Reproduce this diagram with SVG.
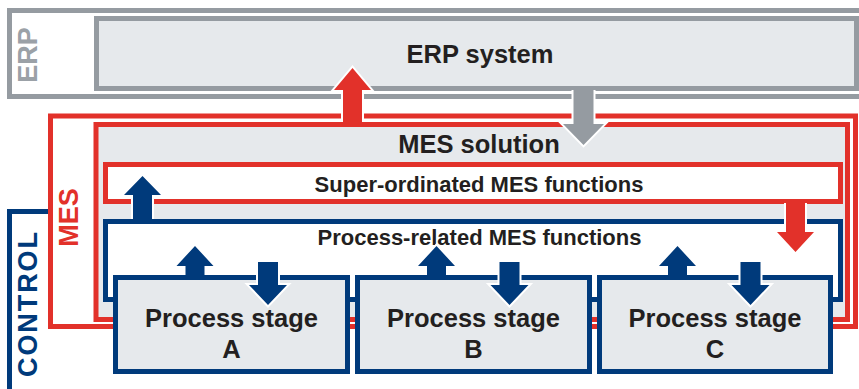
<svg xmlns="http://www.w3.org/2000/svg" width="859" height="389" viewBox="0 0 859 389">
<style>
  .frame{fill:none;stroke-width:5}
  .gray{stroke:#959ba1}
  .red{stroke:#e2312a}
  .blue{stroke:#003a7b}
  .box{fill:#e6e9ec;stroke-width:5}
  .wbox{fill:#ffffff;stroke-width:5}
  .t{font-family:"Liberation Sans",Arial,sans-serif;font-weight:bold;fill:#231f20;text-anchor:middle}
  .big{font-size:25.5px}
  .mid{font-size:22px}
  .side{font-family:"Liberation Sans",Arial,sans-serif;font-weight:bold;font-size:27px;text-anchor:middle}
  .halo{fill:none;stroke:#ffffff;stroke-width:4;stroke-linejoin:miter}
  .af-red{fill:#e2312a}
  .af-blue{fill:#003a7b}
  .af-gray{fill:#959ba1}
</style>

<g id="erp-frame">
  <path class="frame gray" d="M870,10.5 H9.5 V96.5 H870"/>
  <text class="side" fill="#9ba1a7" transform="translate(37,55) rotate(-90)">ERP</text>
</g>

<g id="erp-system">
  <rect class="box gray" x="96.5" y="18.5" width="760" height="70"/>
  <text class="t big" x="480" y="63">ERP system</text>
</g>

<g id="control-frame">
  <path class="frame blue" d="M9.5,392 V211.5 H50"/>
  <text class="side" fill="#003a7b" font-size="28" textLength="145" lengthAdjust="spacing" transform="translate(37,304.5) rotate(-90)">CONTROL</text>
</g>

<g id="mes-frame">
  <rect class="frame red" x="50.5" y="116" width="805" height="210.5"/>
  <text class="side" fill="#e2312a" transform="translate(78,217.5) rotate(-90)">MES</text>
</g>

<g id="mes-solution">
  <rect class="box red" x="96" y="124.5" width="751.5" height="195"/>
  <text class="t big" x="479" y="153">MES solution</text>
</g>

<g id="super-mes">
  <rect class="wbox red" x="105.5" y="164.5" width="735" height="37"/>
  <text class="t mid" x="479" y="192">Super-ordinated MES functions</text>
</g>

<g id="process-mes">
  <rect class="wbox blue" x="105.5" y="221.5" width="735" height="78"/>
  <text class="t mid" x="479.5" y="244.5">Process-related MES functions</text>
</g>

<g id="stage-a">
  <rect class="box blue" x="115.5" y="277.5" width="232" height="94"/>
  <text class="t big" x="231.5" y="327">Process stage</text>
  <text class="t big" x="231.5" y="358">A</text>
</g>

<g id="stage-b">
  <rect class="box blue" x="357.5" y="277.5" width="232" height="94"/>
  <text class="t big" x="473.5" y="327">Process stage</text>
  <text class="t big" x="473.5" y="358">B</text>
</g>

<g id="stage-c">
  <rect class="box blue" x="599.5" y="277.5" width="231" height="94"/>
  <text class="t big" x="715" y="327">Process stage</text>
  <text class="t big" x="715" y="358">C</text>
</g>

<g id="connectors">
  <!-- MES -> ERP (red up) -->
  <path class="halo" d="M343,122 V90 H334 L352.5,68 L371,90 H362 V122"/>
  <path class="af-red" d="M343,122 V90 H334 L352.5,68 L371,90 H362 V122 Z"/>
  <!-- ERP -> MES (gray down) -->
  <path class="halo" d="M573.5,90 V124 H563 L583.5,145 L604,124 H593.5 V90"/>
  <path class="af-gray" d="M573.5,90 V124 H563 L583.5,145 L604,124 H593.5 V90 Z"/>
  <!-- Super -> Process-related (red down) -->
  <path class="halo" d="M786,203 V232 H777 L795.5,252 L814,232 H805 V203"/>
  <path class="af-red" d="M786,203 V232 H777 L795.5,252 L814,232 H805 V203 Z"/>
  <!-- Process-related -> Super (blue up) -->
  <path class="halo" d="M133,219 V195 H124 L142.5,176 L161,195 H152 V219"/>
  <path class="af-blue" d="M133,219 V195 H124 L142.5,176 L161,195 H152 V219 Z"/>

  <!-- Stage A -->
  <path class="halo" d="M185.5,275 V266 H176.5 L195,246 L213.5,266 H204.5 V275"/>
  <path class="af-blue" d="M185.5,275 V266 H176.5 L195,246 L213.5,266 H204.5 V275 Z"/>
  <path class="halo" d="M258,262 V285 H249 L268,305 L287,285 H278 V262"/>
  <path class="af-blue" d="M258,262 V285 H249 L268,305 L287,285 H278 V262 Z"/>
  <!-- Stage B -->
  <path class="halo" d="M427,275 V266 H418 L436.5,246 L455,266 H446 V275"/>
  <path class="af-blue" d="M427,275 V266 H418 L436.5,246 L455,266 H446 V275 Z"/>
  <path class="halo" d="M499.5,262 V285 H490.5 L509.5,305 L528.5,285 H519.5 V262"/>
  <path class="af-blue" d="M499.5,262 V285 H490.5 L509.5,305 L528.5,285 H519.5 V262 Z"/>
  <!-- Stage C -->
  <path class="halo" d="M668,275 V266 H659 L677.5,246 L696,266 H687 V275"/>
  <path class="af-blue" d="M668,275 V266 H659 L677.5,246 L696,266 H687 V275 Z"/>
  <path class="halo" d="M740.5,262 V285 H731.5 L750.5,305 L769.5,285 H760.5 V262"/>
  <path class="af-blue" d="M740.5,262 V285 H731.5 L750.5,305 L769.5,285 H760.5 V262 Z"/>
</g>
</svg>
